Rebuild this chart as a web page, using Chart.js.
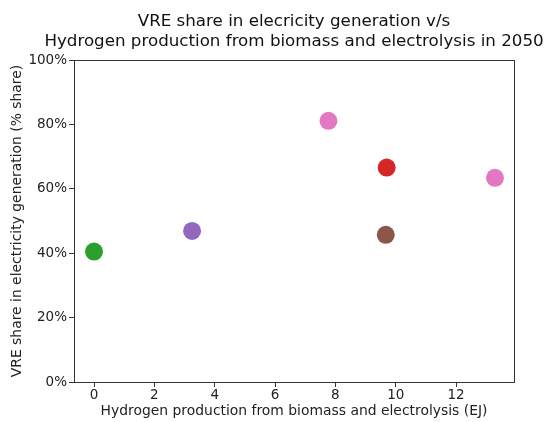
<!DOCTYPE html>
<html>
<head>
<meta charset="utf-8">
<script src="https://cdn.jsdelivr.net/npm/chart.js@4"></script>
<style>
html,body{margin:0;padding:0;background:#fff;}
#wrap{width:546px;height:422px;}
</style>
</head>
<body>
<div id="wrap"><canvas id="c" width="546" height="422"></canvas></div>
<script>
const hydrogenEJ = [0.0, 3.25, 7.77, 9.70, 9.67, 13.29];
const vreSharePct = [40.5, 46.9, 81.1, 66.6, 45.7, 63.4];
const pointColors = ['#2ca02c', '#9467bd', '#e377c2', '#d62728', '#8c564b', '#e377c2'];
const xTickValues = [0, 2, 4, 6, 8, 10, 12];
const yTickValues = [0, 20, 40, 60, 80, 100];
const titleLines = ['VRE share in elecricity generation v/s', 'Hydrogen production from biomass and electrolysis in 2050'];
const xTitle = 'Hydrogen production from biomass and electrolysis (EJ)';
const yTitle = 'VRE share in electricity generation (% share)';

const FONT = 'DejaVu Sans';
const boxPlugin = {
  id: 'box',
  afterDatasetsDraw(chart) {
    const a = chart.chartArea, ctx = chart.ctx;
    ctx.save();
    ctx.strokeStyle = '#333';
    ctx.lineWidth = 1;
    ctx.strokeRect(Math.round(a.left) + 0.5, Math.round(a.top) + 0.5, Math.round(a.right - a.left), Math.round(a.bottom - a.top));
    ctx.restore();
  }
};
const titlePlugin = {
  id: 'centerTitle',
  afterDraw(chart) {
    const a = chart.chartArea, ctx = chart.ctx;
    ctx.save();
    ctx.fillStyle = '#111';
    ctx.font = '16.7px "' + FONT + '"';
    ctx.textAlign = 'center';
    ctx.textBaseline = 'middle';
    const cx = (a.left + a.right) / 2;
    titleLines.forEach((t, i) => ctx.fillText(t, cx, 22 + i * 19.5));
    ctx.restore();
  }
};

new Chart(document.getElementById('c'), {
  type: 'scatter',
  data: {
    datasets: [{
      data: hydrogenEJ.map((x, i) => ({x: x, y: vreSharePct[i]})),
      backgroundColor: pointColors,
      borderWidth: 0,
      pointRadius: 9,
      pointHoverRadius: 9
    }]
  },
  options: {
    responsive: false,
    animation: false,
    devicePixelRatio: 1,
    layout: {padding: {left: 0, right: 32, top: 60, bottom: 0}},
    plugins: {
      legend: {display: false},
      tooltip: {enabled: false},
      title: {display: false}
    },
    scales: {
      x: {
        type: 'linear',
        min: -0.663,
        max: 13.92,
        afterBuildTicks: s => { s.ticks = xTickValues.map(v => ({value: v})); },
        afterFit: s => { s.height = 40; },
        grid: {display: true, drawOnChartArea: false, drawTicks: true, tickLength: 5, color: '#333'},
        border: {display: true, color: '#333'},
        ticks: {color: '#222', font: {family: FONT, size: 13.5}, padding: 0, maxRotation: 0, callback: v => String(v)},
        title: {display: true, text: xTitle, color: '#222', font: {family: FONT, size: 13.9, lineHeight: 1.2}, padding: {top: 0, bottom: 2.7}}
      },
      y: {
        type: 'linear',
        min: 0,
        max: 100,
        afterBuildTicks: s => { s.ticks = yTickValues.map(v => ({value: v})); },
        afterFit: s => { s.width = 74; },
        grid: {display: true, drawOnChartArea: false, drawTicks: true, tickLength: 5, color: '#333'},
        border: {display: true, color: '#333'},
        ticks: {color: '#222', font: {family: FONT, size: 13.5}, padding: 2, callback: v => v + '%'},
        title: {display: true, text: yTitle, color: '#222', font: {family: FONT, size: 13.9, lineHeight: 1.2}, padding: {top: 9, bottom: 0}}
      }
    }
  },
  plugins: [boxPlugin, titlePlugin]
});
</script>
</body>
</html>
